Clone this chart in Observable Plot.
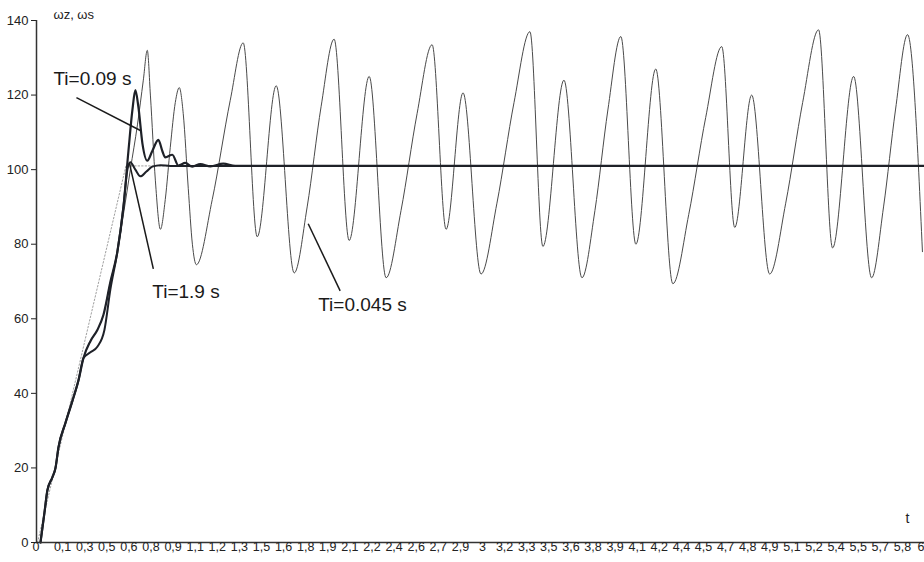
<!DOCTYPE html>
<html><head><meta charset="utf-8">
<script src="https://cdn.jsdelivr.net/npm/d3@7"></script>
<script src="https://cdn.jsdelivr.net/npm/@observablehq/plot@0.6"></script>
<style>
html,body{margin:0;padding:0;background:#fff;}
#chart svg{display:block;}
</style></head><body><div id="chart"></div>
<script>
// x tick positions (s) and their printed labels
const xTickValues = [0,0.15,0.3,0.45,0.6,0.75,0.9,1.05,1.2,1.35,1.5,1.65,1.8,1.95,2.1,2.25,2.4,2.55,2.7,2.85,3,3.15,3.3,3.45,3.6,3.75,3.9,4.05,4.2,4.35,4.5,4.65,4.8,4.95,5.1,5.25,5.4,5.55,5.7,5.85,6];
const xTickLabels = ["0","0,1","0,3","0,5","0,6","0,8","0,9","1,1","1,2","1,3","1,5","1,6","1,8","1,9","2,1","2,2","2,4","2,6","2,7","2,9","3","3,2","3,3","3,5","3,6","3,8","3,9","4,1","4,2","4,4","4,5","4,7","4,8","4,9","5,1","5,2","5,4","5,5","5,7","5,8","6"];
const yTicks = [0,20,40,60,80,100,120,140];

// reference ramp (ωz)
const rampT = [-0.02, 0.58, 6.0];
const rampV = [0, 101, 101];

// Ti = 0.09 s
const t009 = [0,0.027,0.047,0.081,0.102,0.122,0.169,0.217,0.258,0.292,0.339,0.386,0.427,0.475,0.522,0.563,0.597,0.624,0.644,0.664,0.692,0.725,0.759,0.800,0.827,0.847,0.895,0.936,0.983,1.03,1.085,1.153,1.241,1.322,6.0];
const v009 = [0,8,14,17.5,20,25.5,32,38,43.5,49.5,54,57,61,70,78,90,105,116,121.3,117,107,102.4,105,108,105,103.3,104,101.1,101.8,100.8,101.5,100.9,101.6,101,101];

// Ti = 1.9 s
const t19 = [0,0.027,0.047,0.081,0.102,0.122,0.169,0.217,0.258,0.292,0.339,0.386,0.434,0.475,0.522,0.563,0.590,0.610,0.644,0.678,0.719,0.759,0.814,0.881,6.0];
const v19 = [0,8,14,17.5,20,25.5,32,38,43.5,49.5,51,52.5,57,68,78,90,100,102,100,98.2,99.5,100.8,101.2,101,101];

// Ti = 0.045 s
const t045 = [0,0.027,0.047,0.081,0.102,0.122,0.169,0.217,0.258,0.292,0.339,0.386,0.427,0.475,0.522,0.563,0.610,0.658,0.698,0.725,0.746,0.780,0.814,0.847,0.881,0.915,0.942,0.969,1.003,1.031,1.058,1.166,1.288,1.376,1.471,1.600,1.722,1.810,1.905,1.993,2.095,2.231,2.346,2.447,2.556,2.658,2.753,2.868,2.990,3.098,3.214,3.322,3.410,3.553,3.675,3.763,3.851,3.939,4.041,4.176,4.292,4.400,4.515,4.624,4.712,4.827,4.949,5.058,5.173,5.281,5.376,5.519,5.641,5.722,5.803,5.885,5.986];
const v045 = [0,8,14,17.5,20,25.5,32,38,43.5,49.5,54,57,61,70,78,88,100,112,124,132,120,97,84,92,106,118,122,115,95,80,74.5,92,118.6,134,82,122.5,72.3,90,117,135,81,125,71,89,115,133.5,84,120.6,72,91,118,137,79.4,124,71,89,116,135.7,80,127,69.4,88,114,133,84.5,120,72,91,118,137.5,79,125,71,90,116,136.2,78];

// annotations
const annotLabels = ["Ti=0.09 s","Ti=1.9 s","Ti=0.045 s"];
const annotT = [0.088, 0.759, 1.885];
const annotV = [122.6, 65.7, 62];
const leaderT1 = [0.244, 0.603, 1.817];
const leaderV1 = [119.3, 101.9, 85.5];
const leaderT2 = [0.678, 0.766, 2.034];
const leaderV2 = [110.5, 73.4, 67.5];

const xDomain = [-0.027, 6];
const toRows = (t, v) => t.map((d, i) => ({t: d, v: v[i]}));
const ramp = toRows(rampT, rampV);
const d009 = toRows(t009, v009);
const d19 = toRows(t19, v19);
const d045 = toRows(t045, v045);
const xTicks = xTickValues.map((t, i) => ({t, label: xTickLabels[i]}));
const annots = annotLabels.map((label, i) => ({label, t: annotT[i], v: annotV[i]}));
const leaders = leaderT1.map((d, i) => ({x1: d, y1: leaderV1[i], x2: leaderT2[i], y2: leaderV2[i]}));

const chart = Plot.plot({
  width: 924, height: 562,
  marginLeft: 36, marginRight: 0, marginTop: 20, marginBottom: 20,
  style: {fontFamily: "'Liberation Sans', Arial, sans-serif", fontSize: "13px", background: "#fff", color: "#222"},
  x: {domain: xDomain, axis: null},
  y: {domain: [0, 140], ticks: yTicks, tickSize: 5, tickPadding: 3, label: null},
  marks: [
    Plot.line(ramp, {x: "t", y: "v", stroke: "#a0a0a0", strokeWidth: 1, strokeDasharray: "1.5,2"}),
    Plot.line(d045, {x: "t", y: "v", curve: "monotone-x", stroke: "#4a4a4a", strokeWidth: 1}),
    Plot.line(d19, {x: "t", y: "v", curve: "monotone-x", stroke: "#1e2128", strokeWidth: 2}),
    Plot.line(d009, {x: "t", y: "v", curve: "monotone-x", stroke: "#1e2128", strokeWidth: 2.2}),
    Plot.ruleY([0], {stroke: "#333", strokeWidth: 1.5}),
    Plot.ruleX([xDomain[0]], {stroke: "#333", strokeWidth: 1.5}),
    Plot.text(xTicks.slice(0, 1), {x: "t", text: "label", frameAnchor: "bottom", lineAnchor: "top", textAnchor: "end", dx: -1, dy: 0, fontSize: 12.5}),
    Plot.text(xTicks.slice(1, -1), {x: "t", text: "label", frameAnchor: "bottom", lineAnchor: "top", dy: 0, fontSize: 12.5}),
    Plot.text(xTicks.slice(-1), {x: "t", text: "label", frameAnchor: "bottom", lineAnchor: "top", textAnchor: "end", dy: 0, fontSize: 12.5}),
    Plot.text(["ωz, ωs"], {frameAnchor: "top-left", textAnchor: "start", lineAnchor: "bottom", dx: 17, dy: -2, fontSize: 13}),
    Plot.text(["t"], {frameAnchor: "bottom-right", textAnchor: "middle", lineAnchor: "bottom", dx: -17, dy: -20, fontSize: 14}),
    Plot.link(leaders, {x1: "x1", y1: "y1", x2: "x2", y2: "y2", stroke: "#1a1a1a", strokeWidth: 1.5}),
    Plot.text(annots, {x: "t", y: "v", text: "label", textAnchor: "start", lineAnchor: "bottom", fontSize: 19, fill: "#1a1a1a"})
  ]
});
document.getElementById("chart").append(chart);
</script>
</body></html>
